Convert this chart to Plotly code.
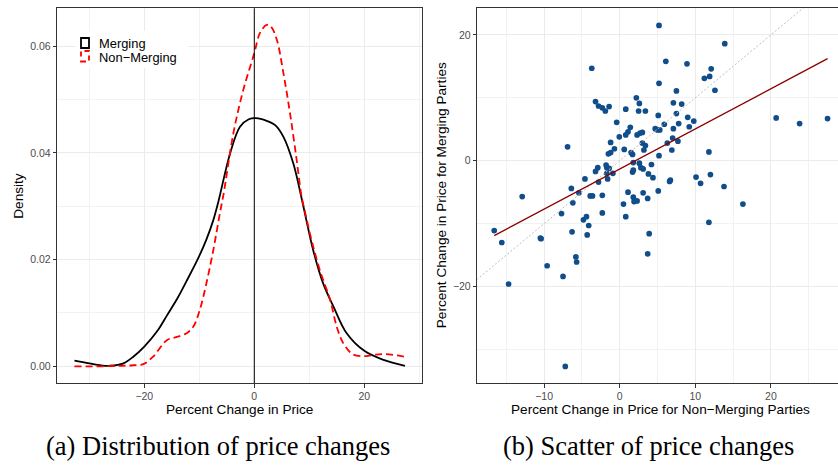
import numpy as np
import plotly.graph_objects as go

W, H = 838, 466

# ---------------- data ----------------
# Density of percent price change
merging_x = [-32.7, -30, -28, -26.2, -23.8, -22, -20, -17.5, -15.9, -14, -12.3, -10, -8.7, -7.45, -6.5,
             -4.4, -2.6, -1, 0.3, 2.25, 3.8, 5.3, 7.1, 8.6, 10.7, 12.5, 14.4, 16.8, 20, 23.5, 27.4]
merging_y = [0.00105, 0.00056, 0.0002, 0.0001, 0.00056, 0.0018, 0.0037, 0.0068, 0.0095, 0.0127,
             0.0160, 0.0207, 0.0238, 0.0274, 0.0310, 0.0399, 0.0449, 0.0463, 0.0465, 0.0460, 0.0452,
             0.0430, 0.0380, 0.0315, 0.0218, 0.0156, 0.0112, 0.0062, 0.0029, 0.0012, 0.0001]

nonmerging_x = [-32.7, -28, -24, -22, -20.2, -18.4, -15.9, -14.1, -12.3, -11.1, -9.9, -8.7, -7.45,
                -6.2, -5.6, -3.8, -2.0, 0, 1.0, 2.25, 3.0, 4.1, 5.3, 6.5, 7.7, 8.6, 9.2, 10.4,
                11.9, 13.8, 15.0, 16.2, 18.0, 20, 21.5, 23.5, 27.4]
nonmerging_y = [0.0, 0.0, 0.0001, 0.0002, 0.0004, 0.0018, 0.0049, 0.0055, 0.0062, 0.0074, 0.0106,
                0.0156, 0.0218, 0.0290, 0.0322, 0.0437, 0.0518, 0.0587, 0.0624, 0.0640, 0.0637,
                0.0612, 0.0549, 0.0474, 0.0387, 0.0318, 0.0290, 0.0237, 0.0181, 0.0124, 0.0074,
                0.0043, 0.0022, 0.0019, 0.0021, 0.0023, 0.0018]

# Scatter: non-merging (x) vs merging (y) price change
nonmerge_change = [5.2, 13.9, -3.7, 6.1, 8.9, 11.2, 11.9, 12.1, 5.2, 7.5, 12.6, -3.2, -2.8, -2.3, -1.9,
                   -1.4, 2.2, 2.6, 0.8, 2.5, 3.4, 7.1, 8.2, 7.5, 5.1, 9.0, 9.8, -0.4, 1.4, 1.1, 0.8,
                   -0.05, 2.3, 2.7, 3.0, 4.7, 5.0, 5.3, 5.9, 7.1, 7.8, 9.2, 20.7, 23.8, 27.5, 7.0,
                   7.7, 6.3, 6.9, 3.0, 3.4, 3.2, -1.2, -0.7, -1.2, -1.5, 0.6, 1.5, 1.7, 5.2, 11.8,
                   -6.9, 1.8, 2.6, 4.2, 2.8, 3.1, 1.8, 1.7, -1.8, -1.7, -2.9, -1.4, -3.2, -1.7, -0.9,
                   -1.6, -2.8, -4.6, 3.8, 4.4, 6.7, 6.6, 10.1, 10.7, 12.0, 13.8, -6.4, -5.4, -12.9,
                   -3.9, -3.6, -2.3, 1.1, 3.1, 5.1, 1.8, 3.7,
                   -6.2, 0.5, 1.9, 2.3, 16.3, -7.7, -2.3, 0.8, -4.8, -4.4, -4.1, 11.8, -16.6, -15.6,
                   -10.5, -10.4, -6.3, -4.3, 3.9, -5.8, -5.7, -9.6, 3.7, -7.5, -14.7, -7.2]
merge_change = [21.5, 18.6, 14.7, 15.8, 15.4, 13.1, 13.4, 14.6, 12.3, 11.1, 11.2, 9.4, 8.7, 8.4, 7.9,
                8.6, 10.0, 9.1, 8.2, 7.9, 7.9, 9.2, 9.0, 7.5, 7.2, 6.9, 6.3, 6.1, 5.3, 4.6, 4.1,
                3.8, 4.1, 4.4, 4.5, 5.1, 4.9, 4.9, 5.8, 5.1, 5.9, 5.4, 6.8, 5.9, 6.7, 3.6,
                3.1, 2.8, 1.7, 2.8, 2.4, 1.7, 2.9, 1.9, 1.3, 1.1, 1.8, 1.3, 1.0, 0.8, 1.4,
                2.2, -0.3, -0.4, -0.6, -1.1, -1.3, -1.5, -1.8, -0.7, -1.1, -1.1, -1.2, -1.7, -2.0, -2.0,
                -2.9, -3.4, -2.9, -2.1, -2.7, -3.1, -3.3, -2.6, -3.6, -2.2, -4.1, -4.4, -5.1, -5.7,
                -5.6, -5.6, -5.5, -5.0, -5.1, -4.8, -5.8, -6.0,
                -6.7, -6.9, -6.5, -6.4, -6.9, -8.4, -8.3, -8.9, -9.4, -8.9, -10.3, -9.8, -11.1, -13.0,
                -12.3, -12.4, -11.3, -11.8, -11.6, -15.3, -16.1, -16.7, -14.8, -18.4, -19.6, -32.7]

density_xticks = [-20, 0, 20]
density_yticks = [0.0, 0.02, 0.04, 0.06]
scatter_xticks = [-10, 0, 10, 20]
scatter_yticks = [-20, 0, 20]

series_names = ["Merging", "Non\u2212Merging"]
captions = ["(a) Distribution of price changes", "(b) Scatter of price changes"]

# ---------------- figure ----------------
fig = go.Figure()

fig.add_trace(go.Scatter(x=merging_x, y=merging_y, mode="lines", line=dict(color="black", width=1.8, shape="spline"),
                         xaxis="x", yaxis="y", showlegend=False, hoverinfo="skip"))
fig.add_trace(go.Scatter(x=nonmerging_x, y=nonmerging_y, mode="lines",
                         line=dict(color="#FF0000", width=1.8, dash="7px,4px", shape="spline"),
                         xaxis="x", yaxis="y", showlegend=False, hoverinfo="skip"))
fig.add_trace(go.Scatter(x=[0, 0], y=[-1, 1], mode="lines", line=dict(color="black", width=1),
                         xaxis="x", yaxis="y", showlegend=False, hoverinfo="skip"))

fig.add_trace(go.Scatter(x=nonmerge_change, y=merge_change, mode="markers",
                         marker=dict(color="#104E8B", size=5.7, line=dict(width=0)),
                         xaxis="x2", yaxis="y2", showlegend=False))
fig.add_trace(go.Scatter(x=[-60, 60], y=[-60, 60], mode="lines",
                         line=dict(color="#BEBEBE", width=1, dash="2px,2px"),
                         xaxis="x2", yaxis="y2", showlegend=False, hoverinfo="skip"))
xs = np.array(nonmerge_change)
ys = np.array(merge_change)
slope, intercept = np.polyfit(xs, ys, 1)
fx = np.array([xs.min(), xs.max()])
fig.add_trace(go.Scatter(x=fx, y=intercept + slope * fx, mode="lines",
                         line=dict(color="#8B0000", width=1.3),
                         xaxis="x2", yaxis="y2", showlegend=False, hoverinfo="skip"))

def px_x(p):
    return p / W

def px_y(p):
    return 1 - p / H

tickfont = dict(family="Liberation Sans, Arial, sans-serif", size=10.5, color="#4D4D4D")
grid = "#EBEBEB"
common = dict(showgrid=True, gridcolor=grid, gridwidth=1.1, zeroline=False, showline=True,
              linecolor="#333333", linewidth=1, ticks="outside", ticklen=3.5, tickcolor="#333333",
              tickwidth=1, tickfont=tickfont, fixedrange=True)

fig.update_layout(
    width=W, height=H, margin=dict(l=0, r=0, t=0, b=0),
    paper_bgcolor="white", plot_bgcolor="white", showlegend=False,
    xaxis=dict(domain=[px_x(57.3), px_x(422.3)], range=[-35.82, 30.55], tickmode="array",
               tickvals=density_xticks, mirror=True, anchor="y",
               minor=dict(tickvals=[-30, -10, 10, 30], showgrid=True, gridcolor="#F2F2F2", gridwidth=0.6, ticks=""),
               **common),
    yaxis=dict(domain=[px_y(383), px_y(8.3)], range=[-0.00313, 0.0671], tickmode="array",
               tickvals=density_yticks, tickformat=".2f", mirror=True, anchor="x",
               minor=dict(tickvals=[0.01, 0.03, 0.05], showgrid=True, gridcolor="#F2F2F2", gridwidth=0.6, ticks=""),
               **common),
    xaxis2=dict(domain=[px_x(477.3), 1.0], range=[-18.84, 28.88], tickmode="array",
                tickvals=scatter_xticks, mirror=True, anchor="y2",
                minor=dict(tickvals=[-15, -5, 5, 15, 25], showgrid=True, gridcolor="#F2F2F2", gridwidth=0.6, ticks=""),
                **common),
    yaxis2=dict(domain=[px_y(383), px_y(8.3)], range=[-35.34, 24.23], tickmode="array",
                tickvals=scatter_yticks, mirror=False, anchor="x2",
                minor=dict(tickvals=[-30, -10, 10], showgrid=True, gridcolor="#F2F2F2", gridwidth=0.6, ticks=""),
                **common),
)

titlefont = dict(family="Liberation Sans, Arial, sans-serif", size=13.6, color="black")
legendfont = dict(family="Liberation Sans, Arial, sans-serif", size=12.9, color="black")
capfont = dict(family="Liberation Serif, Times New Roman, serif", size=26.5, color="black")
ann = [
    dict(text="Percent Change in Price", x=px_x(239.8), y=px_y(409), xref="paper", yref="paper",
         showarrow=False, font=titlefont, xanchor="center", yanchor="middle"),
    dict(text="Density", x=px_x(19), y=px_y(195.7), xref="paper", yref="paper", textangle=-90,
         showarrow=False, font=titlefont, xanchor="center", yanchor="middle"),
    dict(text="Percent Change in Price for Non\u2212Merging Parties", x=px_x(660.6), y=px_y(409),
         xref="paper", yref="paper", showarrow=False, font=titlefont, xanchor="center", yanchor="middle"),
    dict(text="Percent Change in Price for Merging Parties", x=px_x(441.5), y=px_y(195.7),
         xref="paper", yref="paper", textangle=-90, showarrow=False, font=titlefont,
         xanchor="center", yanchor="middle"),
    dict(text=series_names[0], x=px_x(96.5), y=px_y(43.3), xref="paper", yref="paper", showarrow=False,
         font=legendfont, xanchor="left", yanchor="middle"),
    dict(text=series_names[1], x=px_x(96.5), y=px_y(57), xref="paper", yref="paper", showarrow=False,
         font=legendfont, xanchor="left", yanchor="middle"),
    dict(text=captions[0], x=px_x(218), y=px_y(446), xref="paper", yref="paper", showarrow=False,
         font=capfont, xanchor="center", yanchor="middle"),
    dict(text=captions[1], x=px_x(648), y=px_y(446), xref="paper", yref="paper", showarrow=False,
         font=capfont, xanchor="center", yanchor="middle"),
]
fig.update_layout(annotations=ann)

shapes = [
    dict(type="rect", xref="paper", yref="paper", x0=px_x(76), x1=px_x(188), y0=px_y(68), y1=px_y(31),
         fillcolor="white", line=dict(width=0), layer="above"),
    dict(type="rect", xref="paper", yref="paper", x0=px_x(81), x1=px_x(89), y0=px_y(48), y1=px_y(38),
         fillcolor="rgba(0,0,0,0)", line=dict(color="black", width=1.8), layer="above"),
    dict(type="rect", xref="paper", yref="paper", x0=px_x(81), x1=px_x(89), y0=px_y(61.5), y1=px_y(51),
         fillcolor="rgba(0,0,0,0)", line=dict(color="#FF0000", width=1.8, dash="5px,4px"), layer="above"),
]
fig.update_layout(shapes=shapes)

fig.write_html("out.html")
